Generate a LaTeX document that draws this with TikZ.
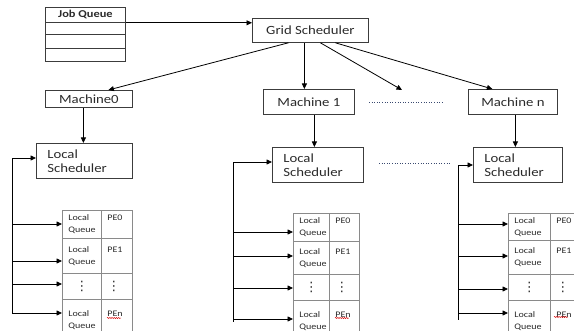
\documentclass[tikz,border=0pt]{standalone}
\usepackage{fontspec}
\setmainfont{Carlito}[FakeStretch=1.18]
\newfontfamily\symfont{DejaVu Sans}
\usetikzlibrary{arrows.meta,decorations.pathmorphing}

\definecolor{inkgray}{HTML}{3C3C3C}
\definecolor{cellgray}{HTML}{8A8A8A}
\definecolor{txt}{HTML}{2A2A2A}
\definecolor{dotblue}{HTML}{3A4A70}

% vertical ellipsis for the elided rows
\newcommand\vdotcol{{\symfont\fontsize{13}{13}\selectfont ⋮}}

% one table cell: [align]{name}{left}{top}{width}{height}{text}
\newcommand\qcell[7][left]{%
  \pgfmathsetmacro\qtw{#5-12}%
  \node[cellbox, align=#1, minimum width=#5pt, minimum height=#6pt, text width=\qtw pt] (#2) at (#3,#4) {#7};}

\begin{document}
\begin{tikzpicture}[x=1pt,y=-1pt,
  every node/.style={text=txt},
  box/.style={draw=inkgray, line width=0.8pt, inner sep=0pt, anchor=north west},
  big/.style={font=\fontsize{12.5}{14}\selectfont},
  sched/.style={box, big, align=left, inner xsep=11pt},
  cellbox/.style={draw=cellgray, line width=0.7pt, inner ysep=0pt, inner xsep=6pt,
                  anchor=north west, font=\fontsize{8.5}{12}\selectfont},
  link/.style={draw=black, line width=0.8pt, -{Triangle[length=5.5pt,width=5pt]}},
  wire/.style={draw=black, line width=0.8pt},
  elide/.style={draw=dotblue, line width=1pt, dash pattern=on 1pt off 1.6pt},
  typo/.style={draw=red!85!black, line width=0.45pt, decorate,
               decoration={snake, amplitude=0.6pt, segment length=2.2pt}},
]
\clip (0,0) rectangle (574,331);

% job queue
\node[box, minimum width=80pt, minimum height=15pt,
      font=\bfseries\fontsize{10.5}{12}\selectfont] (jq) at (45,7) {Job Queue};
\node[box, minimum width=80pt, minimum height=12pt] (jq1) at (45,22) {};
\node[box, minimum width=80pt, minimum height=14pt] (jq2) at (45,34) {};
\node[box, minimum width=80pt, minimum height=13pt] (jq3) at (45,48) {};

% grid level
\node[box, big, minimum width=116pt, minimum height=24pt] (gs) at (252,18) {Grid Scheduler};
\node[box, big, minimum width=87pt, minimum height=17pt] (m0) at (45,90) {Machine0};
\node[box, big, minimum width=91pt, minimum height=25pt] (m1) at (263,89) {Machine 1};
\node[box, big, minimum width=89pt, minimum height=25pt] (mn) at (468,89) {Machine n};
\coordinate (mdots) at (402,90);

\draw[link] (jq.south east) -- (jq.south east -| gs.west);
\draw[link] ([xshift=-22pt]gs.south) -- ([xshift=19.5pt]m0.north);
\draw[link] ([xshift=-6pt]gs.south) -- ([xshift=-4.5pt]m1.north);
\draw[link] ([xshift=10pt]gs.south) -- (mdots);
\draw[link] ([xshift=25pt]gs.south) -- ([xshift=-20.5pt]mn.north);

\coordinate (e1a) at (369,103); \coordinate (e1b) at (443,103);
\draw[elide] (e1a) -- (e1b);

% local schedulers
\node[sched, minimum width=96pt, minimum height=35pt, text width=74pt] (ls0) at (36,143) {Local\\Scheduler};
\node[sched, minimum width=91pt, minimum height=35pt, text width=69pt] (ls1) at (272,147) {Local\\Scheduler};
\node[sched, minimum width=89pt, minimum height=35pt, text width=67pt] (lsn) at (473,147) {Local\\Scheduler};

\draw[link] ([xshift=-5.5pt]m0.south) -- ([xshift=-5.5pt]m0.south |- ls0.north);
\draw[link] ([xshift=5.5pt]m1.south) -- ([xshift=5.5pt]m1.south |- ls1.north);
\draw[link] ([xshift=2.5pt]mn.south) -- ([xshift=2.5pt]mn.south |- lsn.north);

\coordinate (e2a) at (379,164); \coordinate (e2b) at (450,164);
\draw[elide] (e2a) -- (e2b);

% processing element tables
\qcell{a-q1}{62}{210}{39}{28}{Local\\Queue}
\qcell{a-p1}{101}{210}{31}{28}{PE0\\\phantom{Q}}
\qcell{a-q2}{62}{238}{39}{35}{Local\\Queue}
\qcell{a-p2}{101}{238}{31}{35}{PE1\\\phantom{Q}}
\qcell[center]{a-q3}{62}{273}{39}{26}{\vdotcol}
\qcell{a-p3}{101}{273}{31}{26}{\vdotcol}
\qcell{a-q4}{62}{299}{39}{41}{Local\\Queue}
\qcell{a-p4}{101}{299}{31}{41}{PEn\\\phantom{Q}}

\qcell{b-q1}{293}{213}{36}{28}{Local\\Queue}
\qcell{b-p1}{329}{213}{30}{28}{PE0\\\phantom{Q}}
\qcell{b-q2}{293}{241}{36}{33}{Local\\Queue}
\qcell{b-p2}{329}{241}{30}{33}{PE1\\\phantom{Q}}
\qcell[center]{b-q3}{293}{274}{36}{26}{\vdotcol}
\qcell{b-p3}{329}{274}{30}{26}{\vdotcol}
\qcell{b-q4}{293}{300}{36}{41}{Local\\Queue}
\qcell{b-p4}{329}{300}{30}{41}{PEn\\\phantom{Q}}

\qcell{c-q1}{508}{213}{42}{27}{Local\\Queue}
\qcell{c-p1}{550}{213}{42}{27}{PE0\\\phantom{Q}}
\qcell{c-q2}{508}{240}{42}{34}{Local\\Queue}
\qcell{c-p2}{550}{240}{42}{34}{PE1\\\phantom{Q}}
\qcell[center]{c-q3}{508}{274}{42}{26}{\vdotcol}
\qcell{c-p3}{550}{274}{42}{26}{\vdotcol}
\qcell{c-q4}{508}{300}{42}{41}{Local\\Queue}
\qcell{c-p4}{550}{300}{42}{41}{PEn\\\phantom{Q}}

\draw[typo] ([shift={(6,19)}]a-p4.north west) -- ([shift={(20,19)}]a-p4.north west);
\draw[typo] ([shift={(6,18)}]b-p4.north west) -- ([shift={(20,18)}]b-p4.north west);
\draw[typo] ([shift={(4,17)}]c-p4.north west) -- ([shift={(18,17)}]c-p4.north west);

% feedback buses from the queues to each local scheduler
\coordinate (a-top) at (12,158);
\coordinate (a-r1) at (12,224); \coordinate (a-r2) at (12,261);
\coordinate (a-r3) at (12,284); \coordinate (a-r4) at (12,313);
\draw[link] (a-r4) -- (a-top) -- (a-top -| ls0.west);
\foreach \r in {1,2,3,4} \draw[link] (a-r\r) -- (a-r\r -| a-q\r.west);

\coordinate (b-top) at (233,162); \coordinate (b-bot) at (233,322);
\coordinate (b-r1) at (233,232); \coordinate (b-r2) at (233,256);
\coordinate (b-r3) at (233,288); \coordinate (b-r4) at (233,319);
\draw[link] (b-bot) -- (b-top) -- (b-top -| ls1.west);
\foreach \r in {1,2,3,4} \draw[link] (b-r\r) -- (b-r\r -| b-q\r.west);

\coordinate (c-top) at (458,165); \coordinate (c-bot) at (458,320);
\coordinate (c-r1) at (458,224); \coordinate (c-r2) at (458,256);
\coordinate (c-r3) at (458,289); \coordinate (c-r4) at (458,313);
\draw[link] (c-bot) -- (c-top) -- (c-top -| lsn.west);
\foreach \r in {1,2,3,4} \draw[link] (c-r\r) -- (c-r\r -| c-q\r.west);
\end{tikzpicture}
\end{document}
